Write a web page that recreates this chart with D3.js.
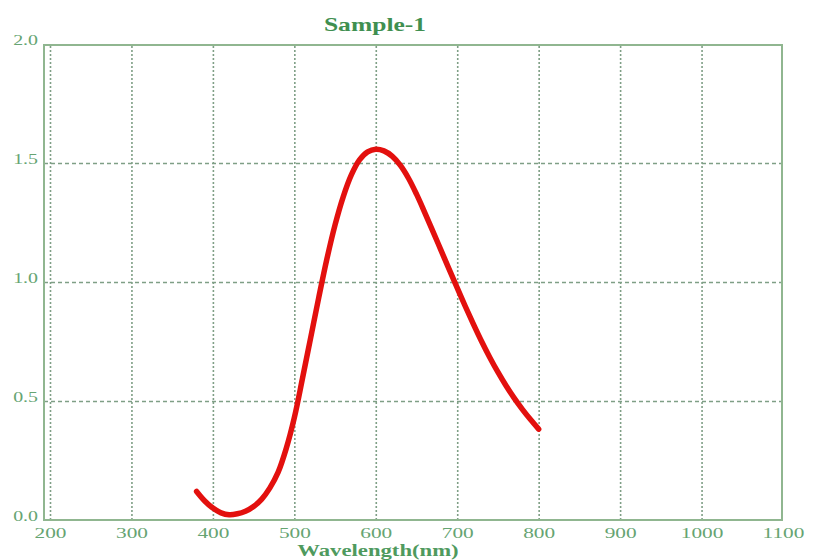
<!DOCTYPE html>
<html>
<head>
<meta charset="utf-8">
<script src="https://cdn.jsdelivr.net/npm/d3@7"></script>
<style>
  body { margin: 0; background: #fff; }
  svg text { font-family: "Liberation Serif", "Times New Roman", serif; }
</style>
</head>
<body>
<div id="chart"></div>
<script>
// data
var wavelength = [380, 390, 400, 410, 420, 430, 440, 450, 460, 470, 480, 490, 500, 510, 520, 530,
  540, 550, 560, 570, 580, 590, 600, 610, 620, 630, 640, 650, 660, 670, 680, 690, 700, 710, 720,
  730, 740, 750, 760, 770, 780, 790, 800];
var absorbance = [0.12, 0.08, 0.05, 0.03, 0.022, 0.026, 0.037, 0.057, 0.088, 0.135, 0.2, 0.3,
  0.43, 0.595, 0.765, 0.935, 1.097, 1.24, 1.358, 1.45, 1.513, 1.547, 1.558, 1.551, 1.529, 1.491,
  1.437, 1.369, 1.293, 1.214, 1.134, 1.054, 0.975, 0.897, 0.822, 0.75, 0.683, 0.621, 0.564, 0.512,
  0.465, 0.422, 0.382];
var xTicks = [200, 300, 400, 500, 600, 700, 800, 900, 1000, 1100];
var yTicks = [0.0, 0.5, 1.0, 1.5, 2.0];
var xGrid = [200, 300, 400, 500, 600, 700, 800, 900, 1000];
var yGrid = [0.5, 1.0, 1.5];

var svgWidth = 814;
var svgHeight = 560;
var stretch = 1.42; // text in the picture is widened

var frame = { left: 44, right: 782, top: 45, bottom: 520 };

var svg = d3.select("#chart")
  .append("svg")
  .attr("width", svgWidth)
  .attr("height", svgHeight);

var x = d3.scaleLinear().domain([200, 1100]).range([50, 783]);
var y = d3.scaleLinear().domain([0, 2]).range([520, 44]);

// vertical dotted grid
svg.append("g")
  .attr("transform", `translate(0, ${frame.bottom})`)
  .call(d3.axisBottom(x).tickValues(xGrid).tickSize(-(frame.bottom - frame.top)).tickFormat(""))
  .call(g => g.select(".domain").remove())
  .call(g => g.selectAll("line")
    .attr("stroke", "#7f9f86")
    .attr("stroke-width", 1.6)
    .attr("stroke-dasharray", "2,2"));

// horizontal dashed grid
svg.append("g")
  .attr("transform", `translate(${frame.left}, 0)`)
  .call(d3.axisRight(y).tickValues(yGrid).tickSize(frame.right - frame.left).tickFormat(""))
  .call(g => g.select(".domain").remove())
  .call(g => g.selectAll("line")
    .attr("stroke", "#7f9f86")
    .attr("stroke-width", 1.4)
    .attr("stroke-dasharray", "4,3"));

// frame
svg.append("rect")
  .attr("x", frame.left)
  .attr("y", frame.top)
  .attr("width", frame.right - frame.left)
  .attr("height", frame.bottom - frame.top)
  .attr("fill", "none")
  .attr("stroke", "#90b690")
  .attr("stroke-width", 2);

// x tick labels
svg.append("g")
  .attr("transform", `translate(0, ${frame.bottom})`)
  .call(d3.axisBottom(x).tickValues(xTicks).tickSize(0).tickFormat(d3.format("d")))
  .call(g => g.select(".domain").remove())
  .call(g => g.selectAll("text")
    .attr("y", 0)
    .attr("dy", 0)
    .attr("transform", `translate(0, 18) scale(${stretch}, 1)`)
    .attr("fill", "#66a472")
    .style("font-size", "15px"));

// y tick labels
svg.append("g")
  .attr("transform", "translate(38, 0)")
  .call(d3.axisLeft(y).tickValues(yTicks).tickSize(0).tickFormat(d3.format(".1f")))
  .call(g => g.select(".domain").remove())
  .call(g => g.selectAll("text")
    .attr("x", 0)
    .attr("dy", 0)
    .attr("transform", `scale(${stretch}, 1)`)
    .attr("fill", "#66a472")
    .style("font-size", "14px"));

// curve
var line = d3.line()
  .x((d, i) => x(wavelength[i]))
  .y(d => y(d))
  .curve(d3.curveCatmullRom);

svg.append("path")
  .datum(absorbance)
  .attr("d", line)
  .attr("fill", "none")
  .attr("stroke", "#e3100e")
  .attr("stroke-width", 5.5)
  .attr("stroke-linecap", "round")
  .attr("stroke-linejoin", "round");

// title
svg.append("text")
  .attr("transform", `translate(375, 31) scale(${stretch}, 1)`)
  .attr("text-anchor", "middle")
  .attr("fill", "#3f8f50")
  .style("font-size", "18px")
  .style("font-weight", "bold")
  .text("Sample-1");

// x axis title
svg.append("text")
  .attr("transform", `translate(378, 556) scale(${stretch}, 1)`)
  .attr("text-anchor", "middle")
  .attr("fill", "#4f9a5e")
  .style("font-size", "16px")
  .style("font-weight", "bold")
  .text("Wavelength(nm)");
</script>
</body>
</html>
